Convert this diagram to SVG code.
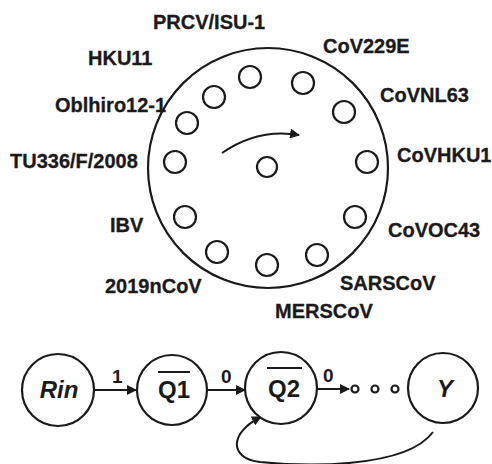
<svg xmlns="http://www.w3.org/2000/svg" width="492" height="464" viewBox="0 0 492 464">
<defs>
<style>
.lbl{font-family:"Liberation Sans",Arial,sans-serif;font-weight:bold;font-size:20px;fill:#1a1a1a;stroke:#1a1a1a;stroke-width:0.3}
.slot{fill:none;stroke:#1a1a1a;stroke-width:2.2}
.node{fill:#fff;stroke:#1a1a1a;stroke-width:2.2}
.edge{fill:none;stroke:#1a1a1a;stroke-width:2}
.nt{font-family:"Liberation Sans",Arial,sans-serif;font-weight:bold;font-size:24px;fill:#1a1a1a;text-anchor:middle}
.el{font-family:"Liberation Sans",Arial,sans-serif;font-weight:bold;font-size:19px;fill:#1a1a1a}
</style>
<marker id="ah" viewBox="0 0 10 10" refX="9" refY="5" markerWidth="5" markerHeight="5" orient="auto" markerUnits="strokeWidth">
<path d="M0,0 L10,5 L0,10 z" fill="#1a1a1a"/>
</marker>
</defs>
<rect width="492" height="464" fill="#fff"/>

<g id="wheel">
<circle cx="268" cy="168" r="120" fill="none" stroke="#1a1a1a" stroke-width="2.2"/>
<circle class="slot" cx="250" cy="77" r="11"/>
<circle class="slot" cx="303" cy="83" r="11"/>
<circle class="slot" cx="344" cy="112" r="11"/>
<circle class="slot" cx="367" cy="162" r="11"/>
<circle class="slot" cx="355" cy="217" r="11"/>
<circle class="slot" cx="317" cy="255" r="11"/>
<circle class="slot" cx="267" cy="265" r="11"/>
<circle class="slot" cx="217" cy="252" r="11"/>
<circle class="slot" cx="185" cy="217" r="11"/>
<circle class="slot" cx="175" cy="162" r="11"/>
<circle class="slot" cx="187" cy="123" r="11"/>
<circle class="slot" cx="214" cy="97" r="11"/>
<circle class="slot" cx="267" cy="167" r="10"/>
<path class="edge" d="M222,153 Q258,128 299,135" marker-end="url(#ah)"/>
</g>

<g id="labels">
<text class="lbl" x="153" y="29">PRCV/ISU-1</text>
<text class="lbl" x="323" y="53">CoV229E</text>
<text class="lbl" x="88" y="65">HKU11</text>
<text class="lbl" x="55" y="112">Oblhiro12-1</text>
<text class="lbl" x="380" y="102">CoVNL63</text>
<text class="lbl" x="10" y="168">TU336/F/2008</text>
<text class="lbl" x="397" y="162">CoVHKU1</text>
<text class="lbl" x="110" y="232">IBV</text>
<text class="lbl" x="388" y="237">CoVOC43</text>
<text class="lbl" x="105" y="293">2019nCoV</text>
<text class="lbl" x="340" y="290">SARSCoV</text>
<text class="lbl" x="275" y="318">MERSCoV</text>
</g>

<g id="connectors">
<path class="edge" d="M95,390 L136,390" marker-end="url(#ah)"/>
<path class="edge" d="M208,390 L245,390" marker-end="url(#ah)"/>
<path class="edge" d="M317,389 L349,389" marker-end="url(#ah)"/>
<path class="edge" d="M433,432 C405,470 300,466 260,462 C228,458 230,432 261,417" marker-end="url(#ah)"/>
<text class="el" x="112" y="383">1</text>
<text class="el" x="221" y="383">0</text>
<text class="el" x="323" y="382">0</text>
<circle class="slot" cx="355" cy="389" r="3.5" stroke-width="1.8"/>
<circle class="slot" cx="375" cy="389" r="3.5" stroke-width="1.8"/>
<circle class="slot" cx="395" cy="389" r="3.5" stroke-width="1.8"/>
</g>

<g id="node-rin">
<circle class="node" cx="58" cy="390" r="36"/>
<text class="nt" x="59" y="398" font-style="italic" font-size="22">Rin</text>
</g>
<g id="node-q1">
<circle class="node" cx="172" cy="390" r="35"/>
<text class="nt" x="174" y="398">Q1</text>
<line x1="158" y1="372" x2="190" y2="372" stroke="#1a1a1a" stroke-width="2"/>
</g>
<g id="node-q2">
<circle class="node" cx="281" cy="388" r="36"/>
<text class="nt" x="284" y="397">Q2</text>
<line x1="267" y1="368" x2="302" y2="368" stroke="#1a1a1a" stroke-width="2"/>
</g>
<g id="node-y">
<circle class="node" cx="443" cy="388" r="35"/>
<text class="nt" x="445" y="397" font-style="italic">Y</text>
</g>
</svg>
